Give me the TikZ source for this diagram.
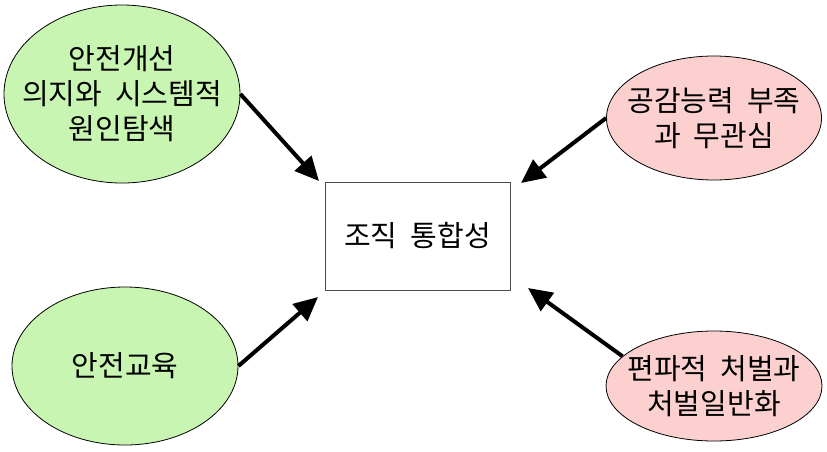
\documentclass[tikz,border=0pt]{standalone}
\usepackage{fontspec}
\setmainfont{Noto Sans CJK KR}[WordSpace=2]
\usetikzlibrary{shapes.geometric,arrows.meta}
\definecolor{gfill}{RGB}{200,246,178}
\definecolor{pfill}{RGB}{252,208,206}
\tikzset{
  bubbletext/.style={align=center, inner sep=0pt, font=\fontsize{29}{35}\selectfont},
  bubble/.style={ellipse, draw=black, line width=0.8pt, inner sep=0pt},
  greenb/.style={bubble, fill=gfill},
  pinkb/.style={bubble, fill=pfill},
  centerbox/.style={draw=black!70, line width=0.9pt, fill=white, minimum width=185pt, minimum height=108pt,
    font=\fontsize{29}{35}\selectfont},
  bigarrow/.style={line width=4pt, -{Triangle[length=24pt,width=22pt]}}
}
\begin{document}
\begin{tikzpicture}[x=1pt,y=-1pt]
\useasboundingbox (0,0) rectangle (827,451);
\fill[white] (0,0) rectangle (827,451);
\node[greenb, minimum width=236pt, minimum height=178pt,
  label={[bubbletext]center:안전개선\\의지와 시스템적\\원인탐색}] (tl) at (122,94) {};
\node[pinkb, minimum width=215pt, minimum height=124pt,
  label={[bubbletext]center:공감능력 부족\\과 무관심}] (tr) at (714,118) {};
\node[greenb, minimum width=226pt, minimum height=158pt,
  label={[bubbletext]center:안전교육}] (bl) at (125,366) {};
\node[pinkb, minimum width=216pt, minimum height=110pt,
  label={[bubbletext]center:편파적 처벌과\\처벌일반화}] (br) at (714,386) {};
\node[centerbox] (box) at (417.5,236) {조직 통합성};
\coordinate (tlTip) at (319,181);
\coordinate (trTip) at (521,183);
\coordinate (blTip) at (318,297);
\coordinate (brTip) at (528,288);
\draw[bigarrow] (tl.east) -- (tlTip);
\draw[bigarrow] (tr.west) -- (trTip);
\draw[bigarrow] (bl.east) -- (blTip);
\draw[bigarrow] (br.162) -- (brTip);
\end{tikzpicture}
\end{document}
